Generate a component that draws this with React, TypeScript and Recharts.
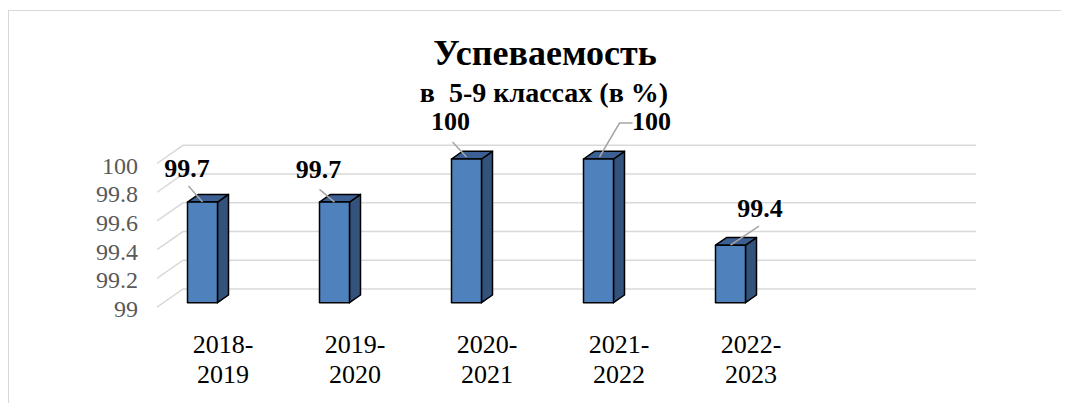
import React from 'react'
import { BarChart, Bar, XAxis, YAxis, CartesianGrid, LabelList } from 'recharts'

const years = ['2018-2019', '2019-2020', '2020-2021', '2021-2022', '2022-2023', '']
const success = [99.7, 99.7, 100, 100, 99.4, null]
const yTicks = [99, 99.2, 99.4, 99.6, 99.8, 100]

const data = years.map((name, i) => ({ name, value: success[i] }))

// manual label placement (like excel's dragged labels), relative to bar top
const labelPos = [
  { dx: -15.5, dy: -24.7, lead: [[-14, -16], [0, 0]] },
  { dx: -16, dy: -23.7, lead: [[-15, -12.7], [0, 0]] },
  { dx: -16, dy: -29, lead: [[-14, -17], [0, -2]] },
  { dx: 53, dy: -29, lead: [[34, -36], [21, -36], [1, -2]] },
  { dx: 29.5, dy: -28.5, lead: [[28.5, -19], [0, 0]] },
]

const font = '"Liberation Serif", Tinos, "Times New Roman", serif'
const SHIFT = -20.5 // perspective shift of bar inside the category
const DX = 11
const DY = 7.7

const Box3D = (props: any) => {
  const { x, y, width, height } = props
  if (height == null || isNaN(height)) return null
  const cx = x + width / 2 + SHIFT
  const l = cx - width / 2
  const r = cx + width / 2
  const b = y + height
  return (
    <g stroke="#000" strokeWidth={1.5} strokeLinejoin="round">
      <polygon points={`${r},${y} ${r + DX},${y - DY} ${r + DX},${b - DY} ${r},${b}`} fill="#34537c" />
      <polygon points={`${l},${y} ${r},${y} ${r + DX},${y - DY} ${l + DX},${y - DY}`} fill="#3c6094" />
      <rect x={l} y={y} width={width} height={height} fill="#4f81bd" />
    </g>
  )
}

const ValueLabel = (props: any) => {
  const { x, y, width, value, index } = props
  const p = labelPos[index]
  if (!p || value == null) return null
  const cx = x + width / 2 + SHIFT
  const pts = p.lead.map(([a, b]) => `${cx + a},${y + b}`).join(' ')
  return (
    <g>
      <polyline points={pts} fill="none" stroke="#a6a6a6" strokeWidth={1.5} />
      <text x={cx + p.dx} y={y + p.dy} textAnchor="middle" style={{ fontFamily: font, fontWeight: 'bold', fontSize: 26 }} fill="#000">
        {value}
      </text>
    </g>
  )
}

const GridLine = (props: any) => {
  const { x1, x2, y1, index } = props
  return (
    <polyline
      key={'g' + index}
      points={`${x1},${y1 + 4.5} ${x1 + 26},${y1 - 13.7} ${x2 + 27},${y1 - 13.7}`}
      fill="none"
      stroke="#d9d9d9"
      strokeWidth={1.5}
    />
  )
}

const YTick = (props: any) => {
  const { x, y, payload } = props
  return (
    <text x={x} y={y + 6.5} textAnchor="end" dominantBaseline="central" style={{ fontFamily: font, fontSize: 24 }} fill="#595959">
      {payload.value}
    </text>
  )
}

const XTick = (props: any) => {
  const { x, y, payload } = props
  if (!payload.value) return null
  const [a, b] = payload.value.split('-')
  return (
    <text textAnchor="middle" style={{ fontFamily: font, fontSize: 26 }} fill="#000">
      <tspan x={x} y={y + 50.3}>{a + '-'}</tspan>
      <tspan x={x} y={y + 80.3}>{b}</tspan>
    </text>
  )
}

export default function App() {
  return (
    <div style={{ position: 'relative', width: 1060, height: 392, marginTop: 2, border: '1px solid #d9d9d9', fontFamily: font }}>
      <BarChart
        width={1060}
        height={392}
        data={data}
        margin={{ top: 148, left: 88, right: 120, bottom: 40.3 }}
        barSize={30}
      >
        <CartesianGrid vertical={false} horizontal={GridLine} />
        <XAxis dataKey="name" axisLine={false} tickLine={false} tickSize={0} tickMargin={0} height={60} interval={0} tick={XTick} />
        <YAxis domain={[99, 100]} ticks={yTicks} axisLine={false} tickLine={false} tickSize={0} tickMargin={19} width={60} tick={YTick} />
        <Bar dataKey="value" shape={Box3D} isAnimationActive={false}>
          <LabelList dataKey="value" content={ValueLabel} />
        </Bar>
      </BarChart>
      <svg width={1060} height={120} style={{ position: 'absolute', left: 0, top: 0, pointerEvents: 'none' }}>
        <text x={536} y={54} textAnchor="middle" style={{ fontFamily: font, fontWeight: 'bold', fontSize: 36 }} fill="#000">
          Успеваемость
        </text>
        <text x={535} y={90.7} textAnchor="middle" style={{ fontFamily: font, fontWeight: 'bold', fontSize: 28, whiteSpace: 'pre' }} fill="#000">
          в  5-9 классах (в %)
        </text>
      </svg>
    </div>
  )
}
